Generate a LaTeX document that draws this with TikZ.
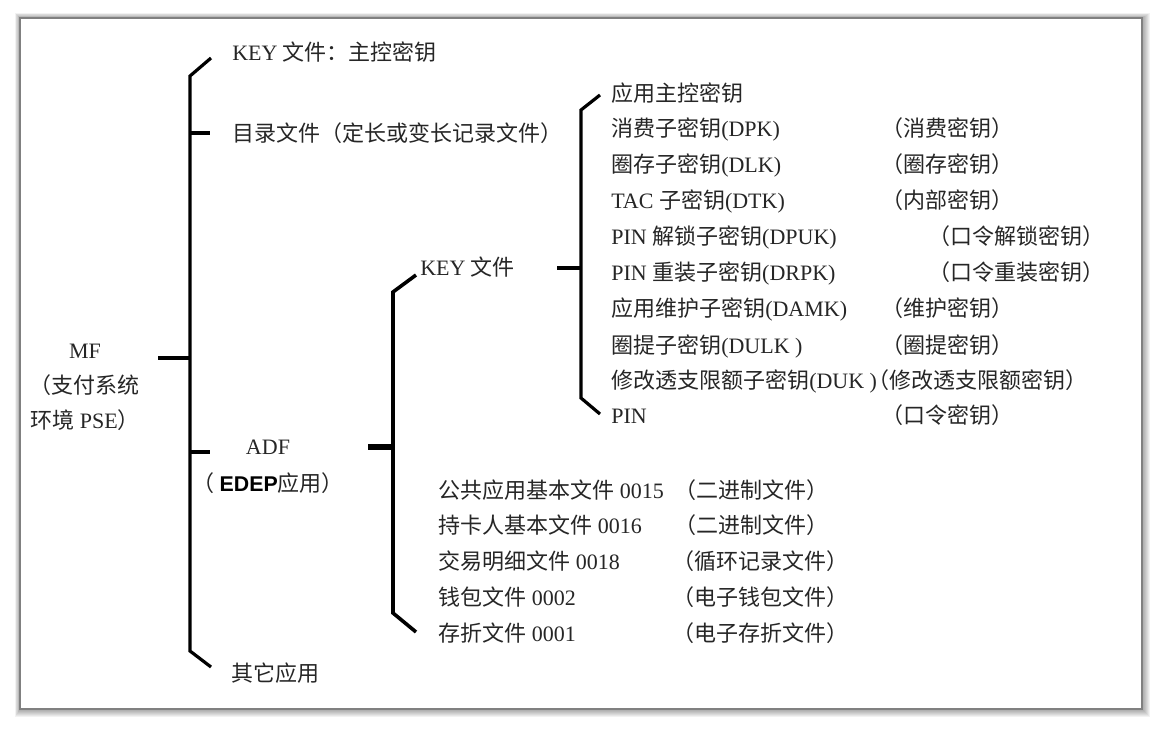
\documentclass[tikz,border=0pt]{standalone}
\usepackage{fontspec}
\setmainfont{Liberation Serif}
\setsansfont{Liberation Sans}
\newfontfamily\cjkfont{Noto Sans CJK SC}
\newXeTeXintercharclass\CJKcls
\newcount\cjkc
\def\setcjkrange#1#2{\cjkc=#1 \loop \XeTeXcharclass\cjkc=\CJKcls \ifnum\cjkc<#2 \advance\cjkc by 1 \repeat}
\setcjkrange{"3000}{"303F}
\setcjkrange{"4E00}{"9FFF}
\setcjkrange{"FF00}{"FFEF}
\XeTeXinterchartoks 0 \CJKcls = {\cjkfont}
\XeTeXinterchartoks 4095 \CJKcls = {\cjkfont}
\XeTeXinterchartoks \CJKcls 0 = {\rmfamily}
\XeTeXinterchartoks \CJKcls 4095 = {\rmfamily}
\XeTeXinterchartokenstate=1
\newcommand\dfs{\fontsize{16.5pt}{20pt}\selectfont}
\tikzset{
  txt/.style={anchor=base west, inner sep=0pt, font=\dfs, text=black!85},
  ctxt/.style={anchor=center, inner sep=0pt, align=center, text=black!85},
  br/.style={line width=2.4pt, black, line join=miter},
  thickbr/.style={line width=2.7pt, black},
}
\begin{document}
\begin{tikzpicture}[x=0.75pt,y=-0.75pt]
\useasboundingbox (0,0) rectangle (1161,729);
% frame with shadow
\foreach \i in {8,7,6,5,4,3,2,1}{
  \fill[black, opacity=0.05] (20-\i*0.6,18-\i*0.6) rectangle (1142+\i,709+\i);
}
\fill[white] (20,18) rectangle (1142,709);
\draw[black!50, line width=1.4pt] (20,18) rectangle (1142,709);

% level 1 texts
\node[ctxt, font=\fontsize{16.5pt}{26.25pt}\selectfont] (mf) at (85,387) {MF\\（支付系统\\环境 PSE）};
\node[txt] (k1) at (232,60) {KEY 文件：主控密钥};
\node[txt] (dir) at (232,141) {目录文件（定长或变长记录文件）};
\node[ctxt, font=\fontsize{16.5pt}{27.75pt}\selectfont] (adf) at (268,466.5) {ADF\\（ {\sffamily\bfseries\fontsize{16pt}{27.75pt}\selectfont\color{black}EDEP}应用）};
\node[txt] (oth) at (231,681) {其它应用};

% level 2
\node[txt] (k2) at (420,275) {KEY 文件};
\node[txt] (f1) at (438,498) {公共应用基本文件 0015};
\node[txt] (f2) at (438,533) {持卡人基本文件 0016};
\node[txt] (f3) at (438,569) {交易明细文件 0018};
\node[txt] (f4) at (438,605) {钱包文件 0002};
\node[txt] (f5) at (438,641) {存折文件 0001};
\node[txt] (t1) at (674,498) {（二进制文件）};
\node[txt] (t2) at (674,533) {（二进制文件）};
\node[txt] (t3) at (672,569) {（循环记录文件）};
\node[txt] (t4) at (672,605) {（电子钱包文件）};
\node[txt] (t5) at (672,641) {（电子存折文件）};

% level 3
\node[txt] (a0) at (611,101) {应用主控密钥};
\node[txt] (a1) at (611,136) {消费子密钥(DPK)};
\node[txt] (a2) at (611,172) {圈存子密钥(DLK)};
\node[txt] (a3) at (611,208) {TAC 子密钥(DTK)};
\node[txt] (a4) at (611,244) {PIN 解锁子密钥(DPUK)};
\node[txt] (a5) at (611,280) {PIN 重装子密钥(DRPK)};
\node[txt] (a6) at (611,316) {应用维护子密钥(DAMK)};
\node[txt] (a7) at (611,353) {圈提子密钥(DULK )};
\node[txt] (a8) at (611,388) {修改透支限额子密钥(DUK )};
\node[txt] (a9) at (611,423) {PIN};
\node[txt] (c1) at (881,136) {（消费密钥）};
\node[txt] (c2) at (881,172) {（圈存密钥）};
\node[txt] (c3) at (881,208) {（内部密钥）};
\node[txt] (c4) at (928,244) {（口令解锁密钥）};
\node[txt] (c5) at (928,280) {（口令重装密钥）};
\node[txt] (c6) at (881,316) {（维护密钥）};
\node[txt] (c7) at (881,353) {（圈提密钥）};
\node[txt] (c8) at (867,388) {（修改透支限额密钥）};
\node[txt] (c9) at (881,423) {（口令密钥）};

% bracket coordinates
\coordinate (m0) at (211,58);
\coordinate (m1) at (190,76);
\coordinate (mdir) at (190,133);
\coordinate (mmf) at (190,358);
\coordinate (madf) at (190,452);
\coordinate (m2) at (190,651);
\coordinate (m3) at (211,667);
\coordinate (dirt) at (210,133);
\coordinate (mft) at (158,358);
\coordinate (adft) at (210,452);

\coordinate (s0) at (416,275);
\coordinate (s1) at (393,292);
\coordinate (sadf) at (393,447);
\coordinate (s2) at (393,613);
\coordinate (s3) at (416,632);
\coordinate (adfr) at (368,447);

\coordinate (r0) at (600,95);
\coordinate (r1) at (581,110);
\coordinate (rk) at (581,268);
\coordinate (r2) at (581,398);
\coordinate (r3) at (600,414);
\coordinate (k2r) at (557,268);

% connectors
\draw[br] (m0) -- (m1) -- (m2) -- (m3);
\draw[br] (mdir) -- (dirt);
\draw[br] (mft) -- (mmf);
\draw[br] (madf) -- (adft);

\draw[thickbr] (s0) -- (s1) -- (s2) -- (s3);
\draw[line width=4.2pt] (adfr) -- (sadf);

\draw[br] (r0) -- (r1) -- (r2) -- (r3);
\draw[br] (k2r) -- (rk);
\end{tikzpicture}
\end{document}
